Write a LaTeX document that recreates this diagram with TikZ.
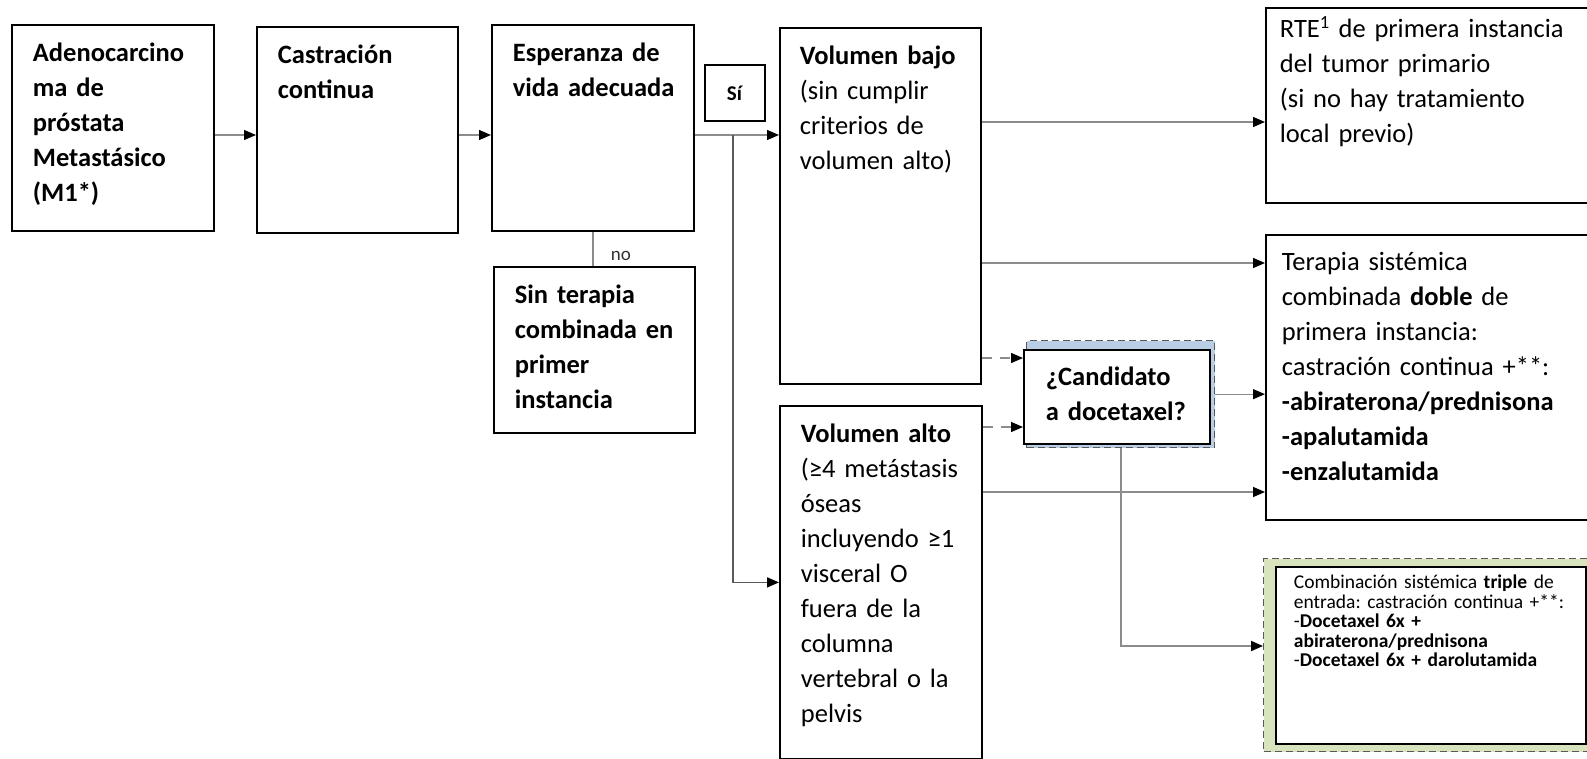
\documentclass[tikz,border=0pt]{standalone}
\usepackage{fontspec}
\setmainfont{Carlito}
\usetikzlibrary{arrows.meta}
\definecolor{linegray}{HTML}{8C8C8C}
\definecolor{darkline}{HTML}{595959}
\definecolor{shadowblue}{HTML}{B9CDE5}
\definecolor{shadowgreen}{HTML}{D7E4BD}
\frenchspacing
\hyphenpenalty=10000
\exhyphenpenalty=10000

\begin{document}
\begin{tikzpicture}[x=1pt,y=-1pt,
	box/.style={draw,line width=1.8pt,fill=white,anchor=north west,align=left,inner ysep=0pt,inner xsep=21pt,text height=37pt,font=\fontsize{26.5}{35}\selectfont},
	bgbox/.style={draw=darkline,dashed,dash pattern=on 7pt off 4pt,line width=1.3pt,anchor=north west,inner sep=0pt},
	conn/.style={draw=linegray,line width=1.3pt,-{Triangle[length=12pt,width=10pt,color=black]}},
	dconn/.style={conn,dash pattern=on 10pt off 8pt},
	sline/.style={conn,draw=darkline,line width=1.6pt}]
	\useasboundingbox (0,0) rectangle (1587,759);
	% first row
	\node[box,text width=160pt,text depth=169pt] (adeno) at (11,24) {\bfseries Adenocarcino\\ma de\\próstata\\Metastásico\\(M1*)};
	\node[box,text width=159pt,text depth=169pt] (castr) at (256,26) {\bfseries Castración\\continua};
	\node[box,text width=160pt,text depth=169pt] (esper) at (491,24) {\bfseries Esperanza~de\\vida~adecuada};
	\node[box,text width=159pt,text depth=129pt] (sinter) at (493,266) {\bfseries Sin~terapia\\combinada~en\\primer\\instancia};
	\node[draw,line width=1.8pt,minimum width=60pt,minimum height=56pt,font=\fontsize{21}{24}\selectfont] (si) at (735,93) {\textbf{Sí}};
	% volumen
	\node[box,inner xsep=20pt,text width=161pt,text depth=319pt] (bajo) at (779,27) {\textbf{Volumen~bajo}\\(sin~cumplir\\criterios~de\\volumen~alto)};
	\node[box,text width=160pt,text depth=316pt] (alto) at (779,405) {\textbf{Volumen~alto}\\(≥4~metástasis\\óseas\\incluyendo~≥1\\visceral~O\\fuera~de~la\\columna\\vertebral~o~la\\pelvis};
	% docetaxel
	\node[bgbox,fill=shadowblue,minimum width=188pt,minimum height=107pt] (candbg) at (1026,340) {};
	\node[box,inner xsep=22pt,text width=142pt,text height=36pt,text depth=58pt] (cand) at (1023,349) {\bfseries ¿Candidato\\a~docetaxel?};
	% tratamientos
	\node[box,inner xsep=14pt,text width=320pt,text height=30pt,text depth=165pt] (rte) at (1265,7) {RTE\textsuperscript{1} de primera instancia\\del tumor primario\\(si no hay tratamiento\\local previo)};
	\node[box,inner xsep=16pt,text width=320pt,text height=36pt,text depth=249pt] (doble) at (1265,234) {Terapia sistémica\\combinada \textbf{doble} de\\primera instancia:\\castración continua +**:\\\textbf{-abiraterona/prednisona}\\\textbf{-apalutamida}\\\textbf{-enzalutamida}};
	\node[bgbox,fill=shadowgreen,minimum width=340pt,minimum height=193pt] (tripbg) at (1263,558) {};
	\node[box,inner xsep=18pt,text width=274pt,text height=22pt,text depth=155pt,font=\fontsize{19.5}{19.5}\selectfont] (triple) at (1275,566) {Combinación~sistémica~\textbf{triple}~de\\entrada:~castración~continua~+**:\\-\textbf{Docetaxel 6x +}\\\textbf{abiraterona/prednisona}\\-\textbf{Docetaxel~6x~+~darolutamida}};
	% levels
	\coordinate (row) at (0,135);
	\coordinate (split) at (733,135);
	\coordinate (rteY) at (0,122);
	\coordinate (dobY) at (0,263);
	\coordinate (candY) at (0,358);
	\coordinate (candY2) at (0,427);
	\coordinate (dobY2) at (0,492);
	\coordinate (tripY) at (0,646);
	% connectors
	\draw[conn] (adeno.east |- row) -- (castr.west |- row);
	\draw[conn] (castr.east |- row) -- (esper.west |- row);
	\draw[conn] (esper.east |- row) -- (bajo.west |- row);
	\draw[sline] (split) |- (alto.west);
	\draw[draw=linegray,line width=1.3pt] (esper.south) -- node[pos=0.72,anchor=west,xshift=14pt,text=black!80,font=\fontsize{19}{22}\selectfont] (nolbl) {no} (esper.south |- sinter.north);
	\draw[conn] (bajo.east |- rteY) -- (rte.west |- rteY);
	\draw[conn] (bajo.east |- dobY) -- (doble.west |- dobY);
	\draw[dconn] (bajo.east |- candY) -- (cand.west |- candY);
	\draw[dconn] (alto.east |- candY2) -- (cand.west |- candY2);
	\draw[conn] (alto.east |- dobY2) -- (doble.west |- dobY2);
	\draw[conn] (candbg.east) -- (candbg.east -| doble.west);
	\draw[conn,line width=1.8pt] (candbg.south) |- (tripbg.west |- tripY);
\end{tikzpicture}
\end{document}
